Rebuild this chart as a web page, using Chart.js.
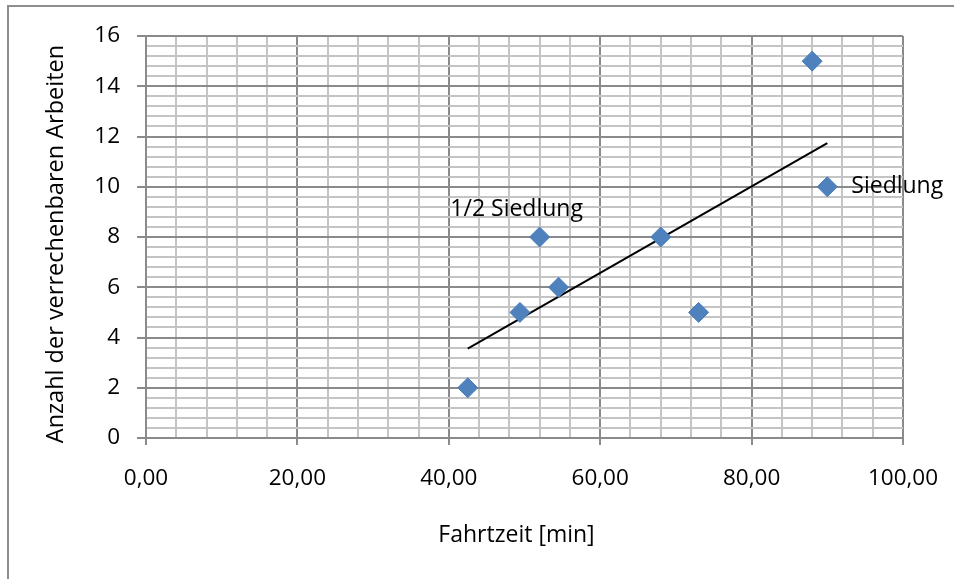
<!DOCTYPE html>
<html>
<head>
<meta charset="utf-8">
<script src="https://cdn.jsdelivr.net/npm/chart.js@4/dist/chart.umd.min.js"></script>
<style>
  html, body { margin: 0; padding: 0; background: #ffffff; }
  #wrap { width: 954px; height: 579px; }
</style>
</head>
<body>
<div id="wrap"><canvas id="c" width="954" height="579"></canvas></div>
<script>
// Travel time in minutes and number of billable jobs per trip
const fahrtzeit = [42.5, 49.4, 52.0, 54.5, 68.0, 73.0, 88.0, 90.0];
const arbeiten  = [2, 5, 8, 6, 8, 5, 15, 10];
// Annotations attached to individual points
const punktNamen = ['', '', '1/2 Siedlung', '', '', '', '', 'Siedlung'];

const xTicks = [0, 20, 40, 60, 80, 100];
const yTicks = [0, 2, 4, 6, 8, 10, 12, 14, 16];
const xTitle = 'Fahrtzeit [min]';
const yTitle = 'Anzahl der verrechenbaren Arbeiten';

const FONT = '"Open Sans", sans-serif';
const MAJOR = '#8a8a8a';
const MINOR = '#c4c4c4';

const points = fahrtzeit.map((x, i) => ({ x, y: arbeiten[i] }));

// Linear least-squares trend through the points
function linearFit(xs, ys) {
  const n = xs.length;
  const mx = xs.reduce((a, b) => a + b, 0) / n;
  const my = ys.reduce((a, b) => a + b, 0) / n;
  let sxy = 0, sxx = 0;
  for (let i = 0; i < n; i++) {
    sxy += (xs[i] - mx) * (ys[i] - my);
    sxx += (xs[i] - mx) * (xs[i] - mx);
  }
  const m = sxy / sxx;
  return { m, b: my - m * mx };
}
const fit = linearFit(fahrtzeit, arbeiten);
const xMin = Math.min(...fahrtzeit), xMax = Math.max(...fahrtzeit);
const trend = [xMin, xMax].map(x => ({ x, y: fit.m * x + fit.b }));

const isMajor = (v, list) => list.some(t => Math.abs(t - v) < 1e-6);

// Outer frame, axis titles and point annotations
const decorations = {
  id: 'decorations',
  beforeDraw(chart) {
    const ctx = chart.ctx;
    ctx.save();
    ctx.fillStyle = '#ffffff';
    ctx.fillRect(0, 0, chart.width, chart.height);
    ctx.strokeStyle = '#8e8e8e';
    ctx.lineWidth = 2;
    ctx.beginPath();
    ctx.moveTo(8, chart.height + 10);
    ctx.lineTo(8, 6);
    ctx.lineTo(chart.width + 10, 6);
    ctx.stroke();
    ctx.restore();
  },
  afterDraw(chart) {
    const ctx = chart.ctx;
    const area = chart.chartArea;
    ctx.save();
    ctx.fillStyle = '#000000';
    ctx.textBaseline = 'alphabetic';
    ctx.textAlign = 'center';
    ctx.font = '23px ' + FONT;
    ctx.fillText(xTitle, (area.left + area.right) / 2 - 8, 542);
    ctx.font = '23.5px ' + FONT;
    ctx.translate(63, (area.top + area.bottom) / 2 + 7);
    ctx.rotate(-Math.PI / 2);
    ctx.fillText(yTitle, 0, 0);
    ctx.restore();

    const meta = chart.getDatasetMeta(1);
    ctx.save();
    ctx.fillStyle = '#000000';
    ctx.font = '23px ' + FONT;
    ctx.textBaseline = 'middle';
    meta.data.forEach((pt, i) => {
      const name = punktNamen[i];
      if (!name) return;
      if (i === meta.data.length - 1) {
        ctx.textAlign = 'left';
        ctx.fillText(name, pt.x + 24, pt.y);
      } else {
        ctx.textAlign = 'center';
        ctx.fillText(name, pt.x - 23, pt.y - 28);
      }
    });
    ctx.restore();
  }
};

new Chart(document.getElementById('c'), {
  type: 'scatter',
  data: {
    datasets: [
      {
        type: 'line',
        data: trend,
        borderColor: '#000000',
        borderWidth: 2,
        pointRadius: 0,
        fill: false,
        order: 2
      },
      {
        data: points,
        pointStyle: 'rectRot',
        pointRadius: 10,
        pointHoverRadius: 10,
        backgroundColor: '#4f81bd',
        borderColor: '#4a7ebb',
        borderWidth: 1,
        order: 1
      }
    ]
  },
  options: {
    responsive: false,
    animation: false,
    devicePixelRatio: 1,
    layout: { padding: { left: 0, top: 36, right: 51, bottom: 0 } },
    plugins: { legend: { display: false }, tooltip: { enabled: false } },
    scales: {
      x: {
        type: 'linear',
        min: 0,
        max: 100,
        afterFit(scale) {
          scale.height = 141;
          scale.paddingLeft = 0;
          scale.paddingRight = 0;
        },
        afterBuildTicks(scale) {
          const t = [];
          for (let k = 0; k <= 25; k++) t.push({ value: k * 4 });
          scale.ticks = t;
        },
        ticks: {
          autoSkip: false,
          maxRotation: 0,
          padding: 20,
          color: '#000000',
          font: { family: FONT, size: 22.5 },
          callback: v => isMajor(v, xTicks) ? v.toFixed(2).replace('.', ',') : ''
        },
        grid: {
          color: c => isMajor(c.tick.value, xTicks) ? MAJOR : MINOR,
          tickColor: c => isMajor(c.tick.value, xTicks) ? MAJOR : 'rgba(0,0,0,0)',
          tickLength: 7,
          lineWidth: 2
        },
        border: { color: MAJOR, width: 2 }
      },
      y: {
        type: 'linear',
        min: 0,
        max: 16,
        afterFit(scale) {
          scale.width = 146;
          scale.paddingTop = 0;
          scale.paddingBottom = 0;
        },
        afterBuildTicks(scale) {
          const t = [];
          for (let k = 0; k <= 40; k++) t.push({ value: Math.round(k * 4) / 10 });
          scale.ticks = t;
        },
        ticks: {
          autoSkip: false,
          padding: 17,
          color: '#000000',
          font: { family: FONT, size: 22.5 },
          callback: v => isMajor(v, yTicks) ? String(Math.round(v)) : ''
        },
        grid: {
          color: c => isMajor(c.tick.value, yTicks) ? MAJOR : MINOR,
          tickColor: c => isMajor(c.tick.value, yTicks) ? MAJOR : 'rgba(0,0,0,0)',
          tickLength: 9,
          lineWidth: 2
        },
        border: { color: MAJOR, width: 2 }
      }
    }
  },
  plugins: [decorations]
});
</script>
</body>
</html>
